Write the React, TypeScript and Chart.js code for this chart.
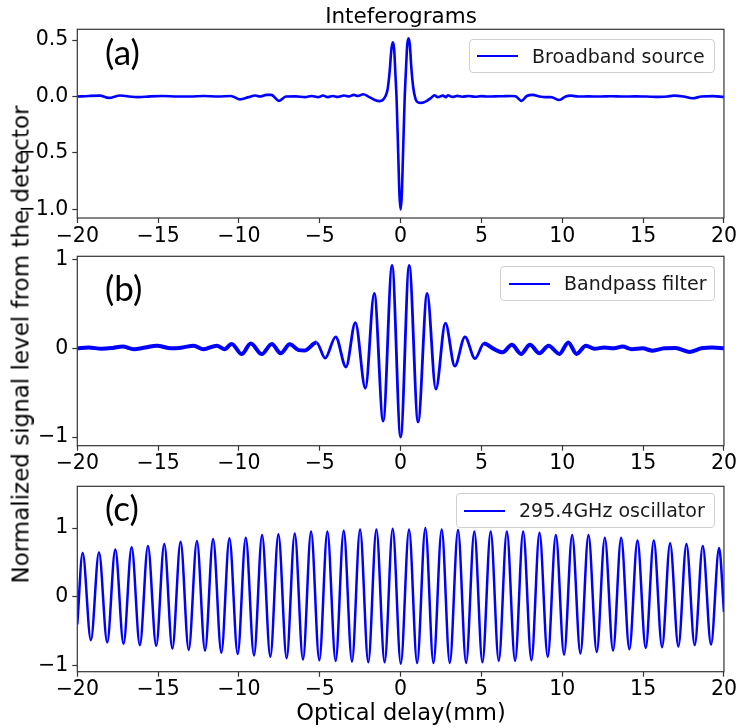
import React, { useEffect, useRef } from 'react';
import { Chart, registerables } from 'chart.js';

Chart.register(...registerables);

// ---------- data ----------
const xTicks = [-20, -15, -10, -5, 0, 5, 10, 15, 20];
const yTicksA = [-1.0, -0.5, 0.0, 0.5];
const yTicksB = [-1, 0, 1];
const yTicksC = [-1, 0, 1];

const titleText = 'Inteferograms';
const xLabelText = 'Optical delay(mm)';
const yLabelText = 'Normalized signal level from the detector';
const panelLabels = ['(a)', '(b)', '(c)'];
const seriesNames = ['Broadband source', 'Bandpass filter', '295.4GHz oscillator'];

// (a) broadband source interferogram
const broadbandX = [
  -20, -19.3, -18.6, -18.06, -17.34, -16.8, -16.2, -15.5, -14.7, -13.8,
  -13.0, -12.2, -11.3, -10.5, -9.93, -9.4, -9.0, -8.7, -8.3, -8.0,
  -7.52, -7.1, -6.5, -5.9, -5.5, -5.1, -4.8, -4.5, -4.2, -3.9,
  -3.5, -3.2, -2.9, -2.64, -2.31, -2.0, -1.6, -1.3, -1.1, -0.95,
  -0.8, -0.68, -0.57, -0.48, -0.4, -0.33, -0.25, -0.15, -0.07, 0,
  0.07, 0.15, 0.25, 0.33, 0.41, 0.49, 0.57, 0.66, 0.78, 0.92,
  1.05, 1.27, 1.6, 1.9, 2.09, 2.3, 2.61, 2.8, 2.92, 3.2,
  3.5, 3.8, 4.2, 4.6, 5.0, 5.4, 5.8, 6.3, 6.8, 7.1,
  7.49, 7.8, 8.17, 8.6, 9.0, 9.3, 9.82, 10.2, 10.54, 11.0,
  11.6, 12.3, 13.0, 13.8, 14.5, 15.2, 16.0, 16.5, 16.9, 17.5,
  18.05, 18.6, 19.3, 20,
];
const broadbandY = [
  0.0, 0.005, 0.008, -0.012, 0.01, 0.0, -0.005, 0.002, 0.005, 0.0,
  0.0, 0.005, 0.0, 0.005, -0.025, -0.005, 0.01, 0.0, 0.015, 0.015,
  -0.038, 0.0, 0.002, -0.005, 0.005, -0.005, 0.01, -0.005, 0.005, -0.003,
  0.01, 0.0, 0.015, 0.005, 0.02, 0.0, -0.03, -0.04, -0.03, 0.0,
  0.07, 0.22, 0.42, 0.48, 0.42, 0.22, -0.02, -0.5, -0.88, -1.0,
  -0.88, -0.5, -0.02, 0.24, 0.46, 0.517, 0.46, 0.26, 0.08, -0.02,
  -0.05, -0.056, -0.04, -0.01, 0.012, -0.005, 0.008, -0.005, 0.012, -0.003,
  0.006, -0.002, 0.005, -0.002, 0.004, 0.0, 0.002, 0.003, 0.005, 0.002,
  -0.038, 0.005, 0.015, 0.0, -0.005, -0.005, -0.03, 0.0, 0.008, 0.0,
  0.002, 0.0, 0.003, 0.0, 0.002, 0.0, -0.003, 0.0, 0.008, 0.0,
  -0.015, 0.0, 0.004, -0.003,
];

// (b) bandpass filter interferogram
const bandpassX = [
  -20, -19.3, -18.5, -17.8, -17.2, -16.5, -15.8, -15.08, -14.2, -13.5,
  -12.8, -12.2, -11.37, -10.9, -10.45, -9.83, -9.27, -8.59, -7.97, -7.42,
  -6.86, -6.3, -5.95, -5.2, -4.67, -4.02, -3.38, -2.8, -2.18, -1.63,
  -1.08, -0.53, 0, 0.53, 1.08, 1.64, 2.18, 2.77, 3.35, 3.98,
  4.6, 5.16, 5.7, 6.31, 6.88, 7.45, 8.0, 8.58, 9.15, 9.82,
  10.37, 10.88, 11.46, 12.0, 12.6, 13.2, 13.73, 14.3, 14.96, 15.58,
  16.3, 17.0, 17.85, 18.6, 19.3, 20,
];
const bandpassY = [
  0.0, 0.01, -0.005, 0.005, 0.02, -0.01, 0.01, 0.03, 0.0, 0.01,
  0.03, -0.01, 0.03, -0.01, 0.05, -0.065, 0.055, -0.065, 0.05, -0.055,
  0.045, -0.02, -0.025, 0.065, -0.11, 0.13, -0.21, 0.29, -0.45, 0.62,
  -0.82, 0.935, -1.0, 0.935, -0.83, 0.62, -0.46, 0.285, -0.2, 0.13,
  -0.115, 0.055, 0.0, -0.045, 0.04, -0.063, 0.04, -0.056, 0.03, -0.063,
  0.067, -0.063, 0.03, -0.005, 0.01, 0.0, 0.02, -0.01, 0.0, -0.026,
  0.0, 0.005, -0.04, 0.0, 0.01, 0.0,
];

// (c) 295.4 GHz oscillator: peaks, troughs and the two end samples
const oscPeakX = [
  -19.67, -18.66, -17.65, -16.64, -15.63, -14.62, -13.61, -12.6, -11.6, -10.59,
  -9.58, -8.57, -7.56, -6.55, -5.54, -4.53, -3.52, -2.51, -1.5, -0.49,
  0.52, 1.53, 2.54, 3.55, 4.56, 5.57, 6.57, 7.58, 8.59, 9.6,
  10.61, 11.62, 12.63, 13.64, 14.65, 15.66, 16.67, 17.68, 18.69, 19.7,
];
const oscPeakY = [
  0.64, 0.65, 0.69, 0.72, 0.74, 0.77, 0.8, 0.81, 0.84, 0.85,
  0.86, 0.9, 0.91, 0.92, 0.95, 0.95, 0.96, 0.98, 0.98, 0.99,
  0.98, 1.0, 0.98, 0.97, 0.95, 0.95, 0.95, 0.95, 0.93, 0.9,
  0.9, 0.9, 0.86, 0.86, 0.82, 0.82, 0.78, 0.77, 0.74, 0.71,
];
const oscTroughX = [
  -19.16, -18.15, -17.14, -16.13, -15.12, -14.12, -13.11, -12.1, -11.09, -10.08,
  -9.07, -8.06, -7.05, -6.04, -5.03, -4.02, -3.01, -2.0, -0.99, 0.01,
  1.02, 2.03, 3.04, 4.05, 5.06, 6.07, 7.08, 8.09, 9.1, 10.11,
  11.12, 12.13, 13.14, 14.15, 15.16, 16.17, 17.18, 18.19, 19.2,
];
const oscTroughY = [
  -0.63, -0.66, -0.68, -0.7, -0.71, -0.75, -0.77, -0.78, -0.81, -0.83,
  -0.85, -0.87, -0.89, -0.91, -0.92, -0.93, -0.94, -0.95, -0.95, -0.97,
  -0.96, -0.96, -0.96, -0.96, -0.95, -0.93, -0.93, -0.92, -0.87, -0.84,
  -0.82, -0.8, -0.78, -0.76, -0.74, -0.73, -0.72, -0.7, -0.69,
];
const oscEdgeX = [-20, 20];
const oscEdgeY = [-0.4, -0.22];

// ---------- helpers ----------
const FONT = "'DejaVu Sans', sans-serif";
const BLUE = '#0000ff';
const AXIS = '#333333';
const W = 738;

const toPoints = (xs: number[], ys: number[]) => xs.map((x, i) => ({ x, y: ys[i] }));
const oscPoints = () =>
  [
    ...toPoints(oscEdgeX, oscEdgeY),
    ...toPoints(oscPeakX, oscPeakY),
    ...toPoints(oscTroughX, oscTroughY),
  ].sort((a, b) => a.x - b.x);

const minus = (v: number) => (v < 0 ? '\u2212' : '');
const fmt1 = (v: number) => minus(v) + Math.abs(v).toFixed(1);
const fmt0 = (v: number) => minus(v) + Math.abs(v).toFixed(0);

const framePlugin = {
  id: 'frame',
  afterDraw(chart: any) {
    const { ctx, chartArea: a } = chart;
    ctx.save();
    ctx.strokeStyle = AXIS;
    ctx.lineWidth = 1.2;
    ctx.strokeRect(a.left, a.top, a.right - a.left, a.bottom - a.top);
    ctx.restore();
  },
};

type PanelCfg = {
  points: { x: number; y: number }[];
  name: string;
  yMin: number;
  yMax: number;
  yTicks: number[];
  yFmt: (v: number) => string;
  padTop: number;
  padBottom: number;
  lineWidth: number;
  flatWidth?: number;
};

function makeChart(canvas: HTMLCanvasElement, c: PanelCfg) {
  const tickFont = { family: FONT, size: 20.5 };
  return new Chart(canvas, {
    type: 'line',
    data: {
      datasets: [
        {
          label: c.name,
          data: c.points,
          borderColor: BLUE,
          borderWidth: c.lineWidth,
          pointRadius: 0,
          fill: false,
          cubicInterpolationMode: 'monotone',
          segment: c.flatWidth
            ? {
                borderWidth: (ctx: any) =>
                  Math.abs(ctx.p0.parsed.y) < 0.08 && Math.abs(ctx.p1.parsed.y) < 0.08
                    ? c.flatWidth
                    : c.lineWidth,
              }
            : undefined,
        } as any,
      ],
    },
    options: {
      responsive: false,
      animation: false,
      events: [],
      layout: { padding: { left: 0, right: W - 725, top: c.padTop, bottom: c.padBottom } },
      plugins: { legend: { display: false }, title: { display: false }, tooltip: { enabled: false } },
      scales: {
        x: {
          type: 'linear',
          min: -20,
          max: 20,
          afterBuildTicks: (s: any) => {
            s.ticks = xTicks.map((value) => ({ value }));
          },
          afterFit: (s: any) => {
            s.height = 30;
          },
          grid: { display: true, drawOnChartArea: false, drawTicks: true, tickLength: 5, tickColor: AXIS, tickWidth: 1.2 },
          border: { display: false },
          ticks: {
            font: tickFont,
            color: '#000',
            padding: 1,
            autoSkip: false,
            maxRotation: 0,
            callback: (v: any) => fmt0(Number(v)),
          },
        },
        y: {
          type: 'linear',
          min: c.yMin,
          max: c.yMax,
          afterBuildTicks: (s: any) => {
            s.ticks = c.yTicks.map((value) => ({ value }));
          },
          afterFit: (s: any) => {
            s.width = 77.3;
          },
          grid: { display: true, drawOnChartArea: false, drawTicks: true, tickLength: 5, tickColor: AXIS, tickWidth: 1.2 },
          border: { display: false },
          ticks: {
            font: tickFont,
            color: '#000',
            padding: 4,
            autoSkip: false,
            callback: (v: any) => c.yFmt(Number(v)),
          },
        },
      },
    } as any,
    plugins: [framePlugin],
  });
}

const abs = (o: React.CSSProperties): React.CSSProperties => ({ position: 'absolute', ...o });

function Legend({ left, top, width, height, lineLeft, textLeft, text }: any) {
  return (
    <div
      style={abs({
        left,
        top,
        width,
        height,
        boxSizing: 'border-box',
        border: '1px solid #d0d0d0',
        borderRadius: 4,
        background: 'rgba(255,255,255,0.8)',
      })}
    >
      <div style={abs({ left: lineLeft, top: Math.round(height / 2) - 2, width: 41, height: 2, background: BLUE })} />
      <div
        style={abs({
          left: textLeft,
          top: 0,
          height: height - 2,
          lineHeight: `${height - 2}px`,
          fontFamily: FONT,
          fontSize: 19,
          color: '#1a1a1a',
          whiteSpace: 'nowrap',
        })}
      >
        {text}
      </div>
    </div>
  );
}

export default function App() {
  const refA = useRef<HTMLCanvasElement>(null);
  const refB = useRef<HTMLCanvasElement>(null);
  const refC = useRef<HTMLCanvasElement>(null);

  useEffect(() => {
    const charts = [
      makeChart(refA.current!, {
        points: toPoints(broadbandX, broadbandY),
        name: seriesNames[0],
        yMin: -1.076,
        yMax: 0.596,
        yTicks: yTicksA,
        yFmt: fmt1,
        padTop: 29.3,
        padBottom: 250 - 218 - 30,
        lineWidth: 2.6,
      }),
      makeChart(refB.current!, {
        points: toPoints(bandpassX, bandpassY),
        name: seriesNames[1],
        yMin: -1.097,
        yMax: 1.037,
        yTicks: yTicksB,
        yFmt: fmt0,
        padTop: 16,
        padBottom: 240 - 205.7 - 30,
        lineWidth: 2.8,
        flatWidth: 4,
      }),
      makeChart(refC.current!, {
        points: oscPoints(),
        name: seriesNames[2],
        yMin: -1.086,
        yMax: 1.606,
        yTicks: yTicksC,
        yFmt: fmt0,
        padTop: 13.3,
        padBottom: 257 - 201.7 - 30,
        lineWidth: 2.5,
      }),
    ];
    return () => charts.forEach((ch) => ch.destroy());
  }, []);

  const textBase: React.CSSProperties = { fontFamily: FONT, color: '#000', whiteSpace: 'nowrap', textAlign: 'center' };
  const panelFont: React.CSSProperties = { fontFamily: "Lato, 'Open Sans', sans-serif", fontSize: 35, lineHeight: '42px', color: '#000' };

  return (
    <div style={abs({ left: 0, top: 0, width: W, height: 727, background: '#fff', overflow: 'hidden' })}>
      <canvas ref={refA} width={W} height={250} style={abs({ left: 0, top: 0 })} />
      <canvas ref={refB} width={W} height={240} style={abs({ left: 0, top: 240 })} />
      <canvas ref={refC} width={W} height={257} style={abs({ left: 0, top: 470 })} />

      <div style={abs({ ...textBase, left: 201, width: 400, top: 5.2, fontSize: 21.5, lineHeight: '21.5px' })}>{titleText}</div>
      <div style={abs({ ...textBase, left: 201, width: 400, top: 700.5, fontSize: 22.5, lineHeight: '22.5px' })}>{xLabelText}</div>
      <div
        style={abs({
          ...textBase,
          left: 21.4 - 300,
          width: 600,
          top: 344 - 11.5,
          height: 23,
          fontSize: 23,
          lineHeight: '23px',
          transform: 'rotate(-90deg)',
        })}
      >
        {yLabelText}
      </div>

      <div style={abs({ ...panelFont, left: 105, top: 53.5 - 24 })}>{panelLabels[0]}</div>
      <div style={abs({ ...panelFont, left: 105, top: 290 - 24 })}>{panelLabels[1]}</div>
      <div style={abs({ ...panelFont, left: 105, top: 510 - 24 })}>{panelLabels[2]}</div>

      <Legend left={469} top={39} width={246} height={34} lineLeft={7} textLeft={62} text={seriesNames[0]} />
      <Legend left={500} top={266} width={215} height={35} lineLeft={8} textLeft={63} text={seriesNames[1]} />
      <Legend left={456} top={493} width={259} height={35} lineLeft={7} textLeft={62} text={seriesNames[2]} />
    </div>
  );
}
